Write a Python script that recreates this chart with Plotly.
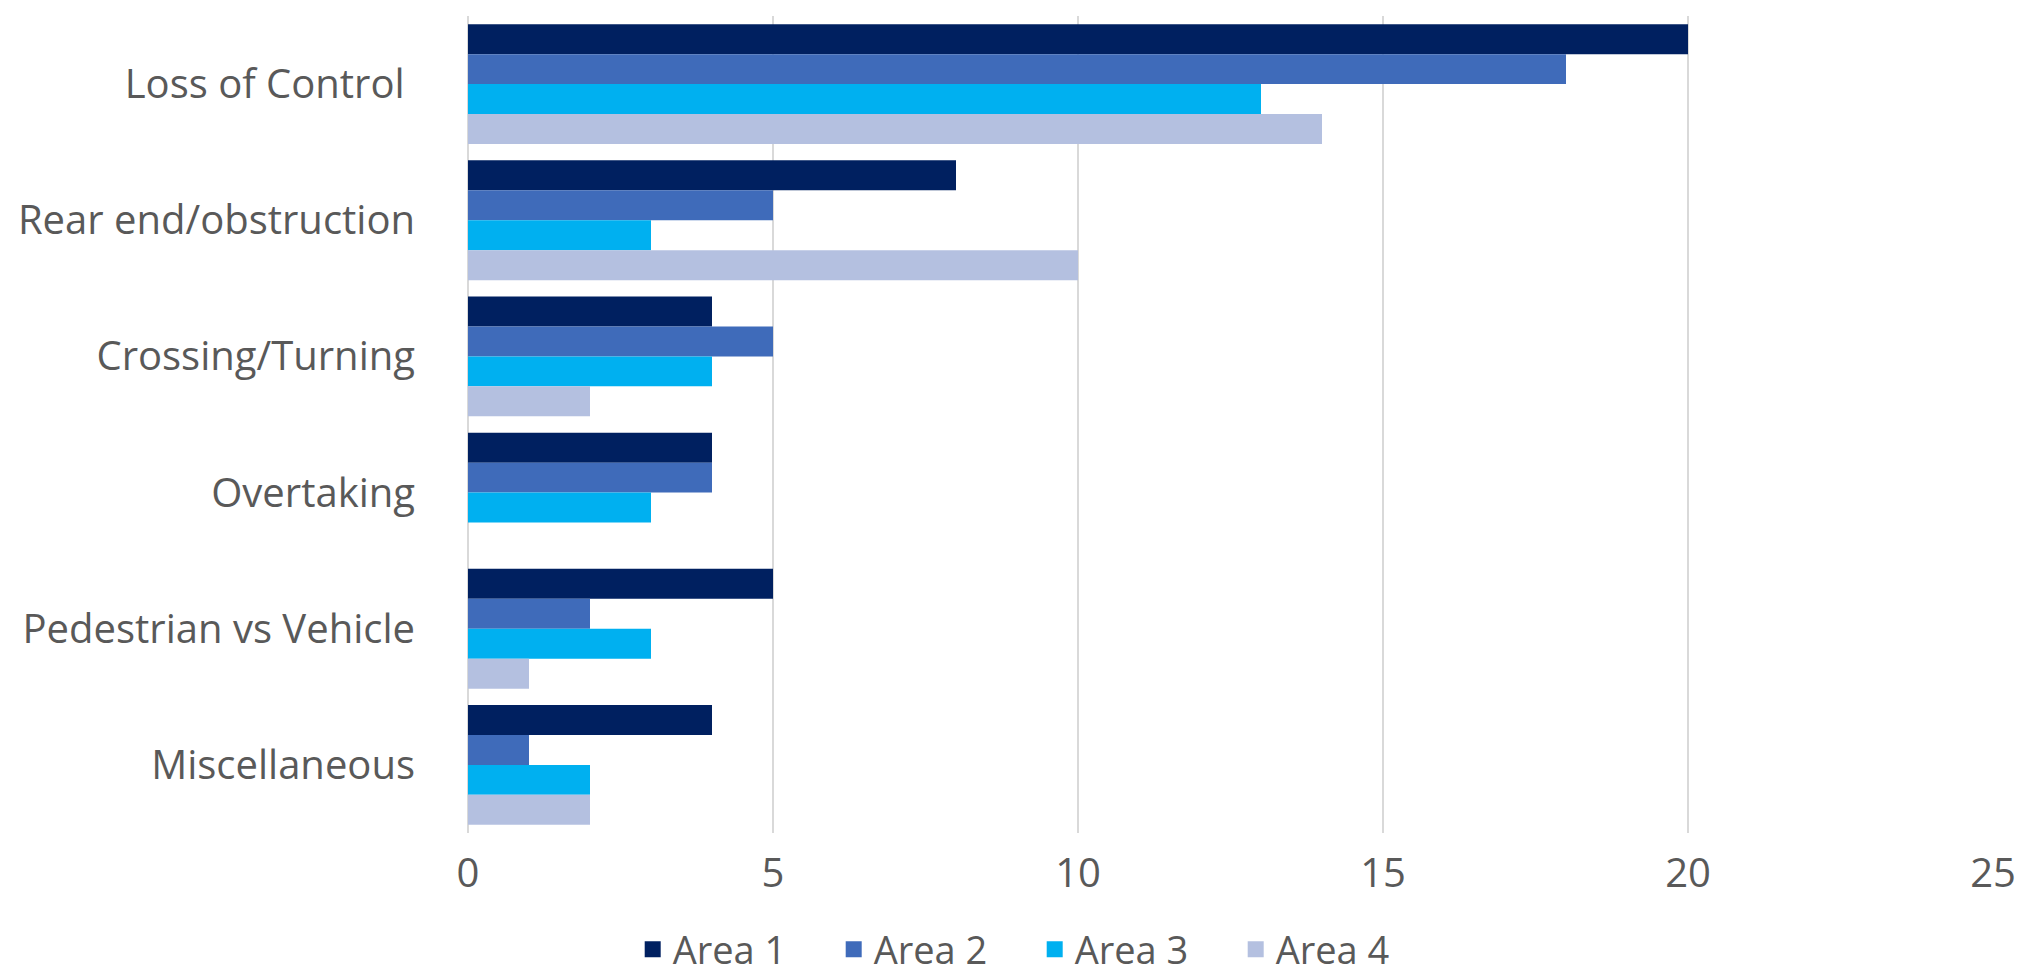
import plotly.graph_objects as go

categories = ["Loss of Control", "Rear end/obstruction", "Crossing/Turning",
              "Overtaking", "Pedestrian vs Vehicle", "Miscellaneous"]
series_names = ["Area 1", "Area 2", "Area 3", "Area 4"]
area1 = [20, 8, 4, 4, 5, 4]
area2 = [18, 5, 5, 4, 2, 1]
area3 = [13, 3, 4, 3, 3, 2]
area4 = [14, 10, 2, 0, 1, 2]
x_ticks = [0, 5, 10, 15, 20, 25]

colors = ["#002060", "#3F6BBA", "#00B0F0", "#B4C0E0"]
values = [area1, area2, area3, area4]

FONT = "Open Sans"
GRAY = "#595959"
FS = 40
LFS = 38

# tick text (trailing no-break space on the first label, as in the source)
tick_text = [categories[0] + "\u00a0"] + categories[1:]

fig = go.Figure()
for name, vals, col in zip(series_names, values, colors):
    fig.add_trace(go.Bar(
        y=categories, x=vals, name=name, orientation="h",
        marker=dict(color=col, line=dict(width=0)),
        legendgroup=name, showlegend=False,
    ))
# legend entries with larger square swatches
for name, col in zip(series_names, colors):
    fig.add_trace(go.Scatter(
        x=[None], y=[None], mode="markers", name=name,
        marker=dict(symbol="square", size=16, color=col),
        legendgroup=name, showlegend=True, hoverinfo="skip",
    ))

fig.update_layout(
    width=2031, height=976,
    margin=dict(l=460, r=46, t=8, b=151, autoexpand=False),
    paper_bgcolor="white", plot_bgcolor="white",
    barmode="group", bargap=0.12, bargroupgap=0,
    font=dict(family=FONT, size=FS, color=GRAY),
    showlegend=True,
    legend=dict(
        orientation="h", x=0.108, xanchor="left", y=-0.104, yanchor="top",
        font=dict(family=FONT, size=LFS, color=GRAY),
        entrywidth=156, entrywidthmode="pixels", traceorder="normal",
        itemsizing="trace",
    ),
    xaxis=dict(
        range=[0, 25], tickvals=x_ticks, showgrid=True,
        gridcolor="#D9D9D9", gridwidth=2,
        zeroline=True, zerolinecolor="#D9D9D9", zerolinewidth=2,
        showline=False, ticks="", ticklabelstandoff=13,
        tickfont=dict(family=FONT, size=FS, color=GRAY),
    ),
    yaxis=dict(
        categoryorder="array", categoryarray=categories,
        tickmode="array", tickvals=categories, ticktext=tick_text,
        autorange="reversed", showgrid=False, zeroline=False,
        showline=False, ticks="", ticklabelstandoff=52,
        tickfont=dict(family=FONT, size=FS, color=GRAY),
    ),
)

fig.write_html("out.html")
